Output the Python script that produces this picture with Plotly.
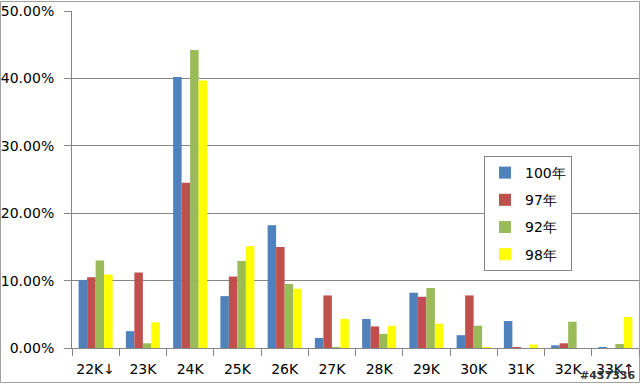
import plotly.graph_objects as go

categories = ["22K↓", "23K", "24K", "25K", "26K", "27K", "28K", "29K", "30K", "31K", "32K", "33K↑"]
series_names = ["100年", "97年", "92年", "98年"]
v100 = [10.1, 2.5, 40.2, 7.7, 18.2, 1.5, 4.3, 8.2, 1.9, 4.0, 0.4, 0.1]
v97 = [10.5, 11.2, 24.5, 10.6, 15.0, 7.8, 3.2, 7.6, 7.8, 0.1, 0.7, 0.0]
v92 = [13.0, 0.7, 44.2, 12.9, 9.5, 0.1, 2.1, 8.9, 3.3, 0.0, 3.9, 0.6]
v98 = [10.9, 3.8, 39.7, 15.1, 8.8, 4.3, 3.3, 3.6, 0.1, 0.5, 0.0, 4.6]
y_ticks = [0, 10, 20, 30, 40, 50]
colors = ["#4F81BD", "#C0504D", "#9BBB59", "#FFFF00"]

fig = go.Figure()
for i, (name, vals) in enumerate(zip(series_names, [v100, v97, v92, v98])):
    fig.add_trace(go.Bar(
        x=categories, y=[v / 100 for v in vals], name=name,
        marker=dict(color=colors[i], line=dict(width=0)),
        legendgroup=name,
    ))

L, R, T, B = 72, 1, 11, 36
W, H = 640, 384
pw, ph = W - L - R, H - T - B

fig.update_layout(
    width=W, height=H,
    margin=dict(l=L, r=R, t=T, b=B, autoexpand=False),
    paper_bgcolor="white", plot_bgcolor="white",
    barmode="group", bargap=0.28, bargroupgap=0,
    font=dict(family="DejaVu Sans", size=14, color="#000000"),
    legend=dict(
        x=(484 - L) / pw, y=(H - B - 156) / ph, xanchor="left", yanchor="top",
        bordercolor="#868686", borderwidth=1, bgcolor="white",
        font=dict(size=14), tracegroupgap=6,
        itemwidth=30,
    ),
    showlegend=True,
)
fig.update_xaxes(
    showline=True, linecolor="#868686", linewidth=1,
    ticks="outside", ticklen=7, tickcolor="#868686",
    tickson="boundaries", showgrid=False, tickangle=0,
    tickfont=dict(size=14), ticklabelstandoff=8, automargin=False,
)
fig.update_yaxes(
    range=[0, 0.5], tickvals=[t / 100 for t in y_ticks], tickformat=".2%",
    showline=True, linecolor="#868686", linewidth=1,
    ticks="outside", ticklen=7, tickcolor="#868686",
    showgrid=True, gridcolor="#868686", gridwidth=1,
    zeroline=False, tickfont=dict(size=14), ticklabelstandoff=7, automargin=False,
)
# outer chart border
fig.add_shape(type="rect", xref="paper", yref="paper",
              x0=-L / pw + 0.5 / pw, x1=1 + (R - 1) / pw + 0.5 / pw,
              y0=-B / ph + 1.5 / ph, y1=1 + T / ph - 1.5 / ph,
              line=dict(color="#A0A0A0", width=1), fillcolor="rgba(0,0,0,0)", layer="below")
fig.add_annotation(text="<b>#437336</b>", xref="paper", yref="paper",
                   x=1 + (R - 3) / pw, y=-B / ph + 0.5 / ph, xanchor="right", yanchor="bottom",
                   showarrow=False, font=dict(size=11, color="#333333", family="DejaVu Sans"))

fig.write_html("out.html", config={"displayModeBar": False},
               post_script="document.body.style.margin='0';document.body.style.overflow='hidden';")
